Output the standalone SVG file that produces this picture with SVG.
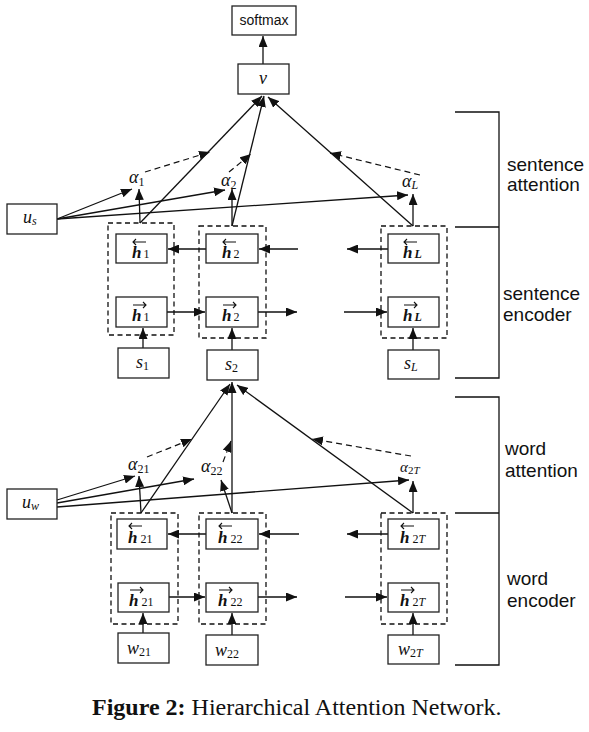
<svg xmlns="http://www.w3.org/2000/svg" width="589" height="732" viewBox="0 0 589 732">
<style>
.box{fill:#fff;stroke:#222;stroke-width:1.3}
.dbox{fill:none;stroke:#111;stroke-width:1.3;stroke-dasharray:5,3.5}
.ln{fill:none;stroke:#111;stroke-width:1.3}
.arr{fill:none;stroke:#111;stroke-width:1.3;marker-end:url(#ah)}
.darr{fill:none;stroke:#111;stroke-width:1.2;stroke-dasharray:6,4;marker-end:url(#ah)}
.acc{fill:none;stroke:#111;stroke-width:1.1}
.m{font-family:"Liberation Serif","DejaVu Serif",serif;font-style:italic;font-size:18px;fill:#111}
.hb{font-weight:bold;font-size:17px}
.s{font-size:12px;font-style:normal;font-weight:normal}
.si{font-size:12px;font-style:italic}
.lab{font-family:"Liberation Sans",Arial,sans-serif;font-size:19px;fill:#111}
.sm{font-family:"Liberation Sans",Arial,sans-serif;font-size:14px;fill:#111}
.cap{font-family:"Liberation Serif","Times New Roman",serif;font-size:24px;fill:#111}
</style>
<defs>
<marker id="ah" markerUnits="userSpaceOnUse" markerWidth="12" markerHeight="9" refX="11" refY="4.5" orient="auto">
<path d="M0,0 L11,4.5 L0,9 z" fill="#111"/>
</marker>
</defs>
<rect width="589" height="732" fill="#fff"/>

<g id="connectors">
<line class="arr" x1="263" y1="64" x2="263" y2="36"/>
<line class="arr" x1="140" y1="223" x2="262" y2="96"/>
<line class="arr" x1="232" y1="226" x2="264" y2="96"/>
<line class="arr" x1="413" y1="226" x2="268" y2="97"/>
<line class="arr" x1="140" y1="223" x2="139" y2="189"/>
<line class="arr" x1="232" y1="226" x2="232" y2="189"/>
<line class="arr" x1="413" y1="226" x2="413" y2="194"/>
<line class="arr" x1="57" y1="219" x2="132" y2="189"/>
<line class="arr" x1="57" y1="219" x2="225" y2="190"/>
<line class="arr" x1="57" y1="219" x2="408" y2="195"/>
<line class="darr" x1="145" y1="172" x2="210" y2="152"/>
<line class="darr" x1="229" y1="172" x2="251" y2="154"/>
<line class="darr" x1="420" y1="175" x2="330" y2="153"/>
<line class="arr" x1="206" y1="249" x2="168" y2="249"/>
<line class="arr" x1="298" y1="249" x2="259" y2="249"/>
<line class="arr" x1="388" y1="249" x2="347" y2="249"/>
<line class="arr" x1="167" y1="312" x2="205" y2="312"/>
<line class="arr" x1="258" y1="312" x2="297" y2="312"/>
<line class="arr" x1="344" y1="312" x2="387" y2="312"/>
<line class="arr" x1="143" y1="348" x2="143" y2="328"/>
<line class="arr" x1="232" y1="350" x2="232" y2="328"/>
<line class="arr" x1="413" y1="350" x2="413" y2="328"/>
<line class="arr" x1="141" y1="513" x2="230" y2="384"/>
<line class="arr" x1="232" y1="513" x2="232" y2="382"/>
<line class="arr" x1="413" y1="513" x2="237" y2="385"/>
<line class="arr" x1="141" y1="513" x2="139" y2="476"/>
<line class="arr" x1="232" y1="513" x2="221" y2="480"/>
<line class="arr" x1="413" y1="513" x2="413" y2="481"/>
<line class="arr" x1="57" y1="500" x2="135" y2="476"/>
<line class="arr" x1="57" y1="503" x2="194" y2="479"/>
<line class="arr" x1="57" y1="507" x2="409" y2="480"/>
<line class="darr" x1="147" y1="457" x2="192" y2="439"/>
<line class="darr" x1="223" y1="462" x2="231" y2="441"/>
<line class="darr" x1="411" y1="456" x2="312" y2="439"/>
<line class="arr" x1="206" y1="534" x2="168" y2="534"/>
<line class="arr" x1="299" y1="534" x2="259" y2="534"/>
<line class="arr" x1="388" y1="534" x2="347" y2="534"/>
<line class="arr" x1="169" y1="597" x2="205" y2="597"/>
<line class="arr" x1="258" y1="597" x2="297" y2="597"/>
<line class="arr" x1="345" y1="597" x2="387" y2="597"/>
<line class="arr" x1="143" y1="633" x2="143" y2="613"/>
<line class="arr" x1="232" y1="635" x2="232" y2="613"/>
<line class="arr" x1="413" y1="635" x2="413" y2="613"/>
</g>

<g id="brackets">
<path class="ln" d="M455,112 H499 V378 H455 M455,227 H499"/>
<path class="ln" d="M455,397 H499 V665 H455 M455,513 H499"/>
</g>

<g id="softmax"><rect class="box" x="232" y="6" width="64" height="29"/><text class="sm" x="264" y="25" text-anchor="middle">softmax</text></g>
<g id="v"><rect class="box" x="238" y="64" width="51" height="30"/><text class="m" x="259" y="84">v</text></g>

<g id="alpha1"><text class="m" x="129" y="183">α<tspan class="s" dy="3">1</tspan></text></g>
<g id="alpha2"><text class="m" x="221" y="186">α<tspan class="s" dy="3">2</tspan></text></g>
<g id="alphaL"><text class="m" x="402" y="187">α<tspan class="si" dy="2">L</tspan></text></g>

<g id="us"><rect class="box" x="7" y="204" width="50" height="30"/><text class="m" x="23" y="223">u<tspan class="si" dy="2">s</tspan></text></g>

<g id="sentbox1"><rect class="dbox" x="108" y="223" width="66" height="112"/></g>
<g id="sentbox2"><rect class="dbox" x="199" y="226" width="67" height="112"/></g>
<g id="sentboxL"><rect class="dbox" x="381" y="226" width="66" height="112"/></g>

<g id="hb1"><rect class="box" x="116" y="234" width="51" height="29"/><path class="acc" d="M133,242 H146 M136,239 L133,242 L136,245"/><text class="m hb" x="132" y="258">h<tspan class="s" dx="2">1</tspan></text></g>
<g id="hf1"><rect class="box" x="116" y="297" width="51" height="30"/><path class="acc" d="M133,305 H146 M143,302 L146,305 L143,308"/><text class="m hb" x="132" y="321">h<tspan class="s" dx="2">1</tspan></text></g>
<g id="hb2"><rect class="box" x="206" y="234" width="52" height="29"/><path class="acc" d="M223,242 H236 M226,239 L223,242 L226,245"/><text class="m hb" x="222" y="258">h<tspan class="s" dx="2">2</tspan></text></g>
<g id="hf2"><rect class="box" x="206" y="297" width="52" height="30"/><path class="acc" d="M223,305 H236 M233,302 L236,305 L233,308"/><text class="m hb" x="222" y="321">h<tspan class="s" dx="2">2</tspan></text></g>
<g id="hbL"><rect class="box" x="388" y="234" width="51" height="29"/><path class="acc" d="M404,242 H417 M407,239 L404,242 L407,245"/><text class="m hb" x="403" y="258">h<tspan class="si" dx="2">L</tspan></text></g>
<g id="hfL"><rect class="box" x="388" y="297" width="51" height="30"/><path class="acc" d="M404,305 H417 M414,302 L417,305 L414,308"/><text class="m hb" x="403" y="321">h<tspan class="si" dx="2">L</tspan></text></g>

<g id="s1"><rect class="box" x="118" y="348" width="51" height="30"/><text class="m" x="136" y="368">s<tspan class="s" dy="2">1</tspan></text></g>
<g id="s2"><rect class="box" x="207" y="350" width="51" height="30"/><text class="m" x="225" y="370">s<tspan class="s" dy="2">2</tspan></text></g>
<g id="sL"><rect class="box" x="388" y="350" width="51" height="29"/><text class="m" x="404" y="369">s<tspan class="si" dy="2">L</tspan></text></g>

<g id="alpha21"><text class="m" x="128" y="470">α<tspan class="s" dy="3">21</tspan></text></g>
<g id="alpha22"><text class="m" x="201" y="472">α<tspan class="s" dy="3">22</tspan></text></g>
<g id="alpha2T"><text class="m" x="400" y="472" style="font-size:15px">α<tspan class="s" dy="2" style="font-size:11px">2<tspan font-style="italic">T</tspan></tspan></text></g>

<g id="uw"><rect class="box" x="7" y="489" width="50" height="30"/><text class="m" x="22" y="508">u<tspan class="si" dy="2">w</tspan></text></g>

<g id="wordbox21"><rect class="dbox" x="111" y="513" width="67" height="111"/></g>
<g id="wordbox22"><rect class="dbox" x="199" y="513" width="67" height="111"/></g>
<g id="wordbox2T"><rect class="dbox" x="381" y="513" width="66" height="111"/></g>

<g id="hb21"><rect class="box" x="117" y="519" width="50" height="30"/><path class="acc" d="M129,526 H142 M132,523 L129,526 L132,529"/><text class="m hb" x="128" y="543">h<tspan class="s" dx="3">21</tspan></text></g>
<g id="hf21"><rect class="box" x="118" y="583" width="51" height="29"/><path class="acc" d="M130,590 H143 M140,587 L143,590 L140,593"/><text class="m hb" x="129" y="606">h<tspan class="s" dx="3">21</tspan></text></g>
<g id="hb22"><rect class="box" x="206" y="519" width="52" height="30"/><path class="acc" d="M219,526 H232 M222,523 L219,526 L222,529"/><text class="m hb" x="218" y="543">h<tspan class="s" dx="3">22</tspan></text></g>
<g id="hf22"><rect class="box" x="206" y="583" width="52" height="29"/><path class="acc" d="M219,590 H232 M229,587 L232,590 L229,593"/><text class="m hb" x="218" y="606">h<tspan class="s" dx="3">22</tspan></text></g>
<g id="hb2T"><rect class="box" x="388" y="519" width="51" height="30"/><path class="acc" d="M401,526 H414 M404,523 L401,526 L404,529"/><text class="m hb" x="400" y="543">h<tspan class="s" dx="3">2<tspan font-style="italic">T</tspan></tspan></text></g>
<g id="hf2T"><rect class="box" x="388" y="583" width="51" height="29"/><path class="acc" d="M401,590 H414 M411,587 L414,590 L411,593"/><text class="m hb" x="400" y="606">h<tspan class="s" dx="3">2<tspan font-style="italic">T</tspan></tspan></text></g>

<g id="w21"><rect class="box" x="118" y="633" width="51" height="30"/><text class="m" x="127" y="654">w<tspan class="s" dy="2">21</tspan></text></g>
<g id="w22"><rect class="box" x="206" y="635" width="52" height="30"/><text class="m" x="215" y="656">w<tspan class="s" dy="2">22</tspan></text></g>
<g id="w2T"><rect class="box" x="388" y="635" width="51" height="29"/><text class="m" x="398" y="655">w<tspan class="s" dy="2">2<tspan font-style="italic">T</tspan></tspan></text></g>

<g id="labels">
<text class="lab" x="507" y="171">sentence</text>
<text class="lab" x="507" y="191">attention</text>
<text class="lab" x="503" y="300">sentence</text>
<text class="lab" x="503" y="321">encoder</text>
<text class="lab" x="505" y="455">word</text>
<text class="lab" x="505" y="477">attention</text>
<text class="lab" x="507" y="585">word</text>
<text class="lab" x="507" y="607">encoder</text>
</g>

<g id="caption"><text class="cap" x="92" y="715"><tspan font-weight="bold">Figure 2:</tspan> Hierarchical Attention Network.</text></g>
</svg>
